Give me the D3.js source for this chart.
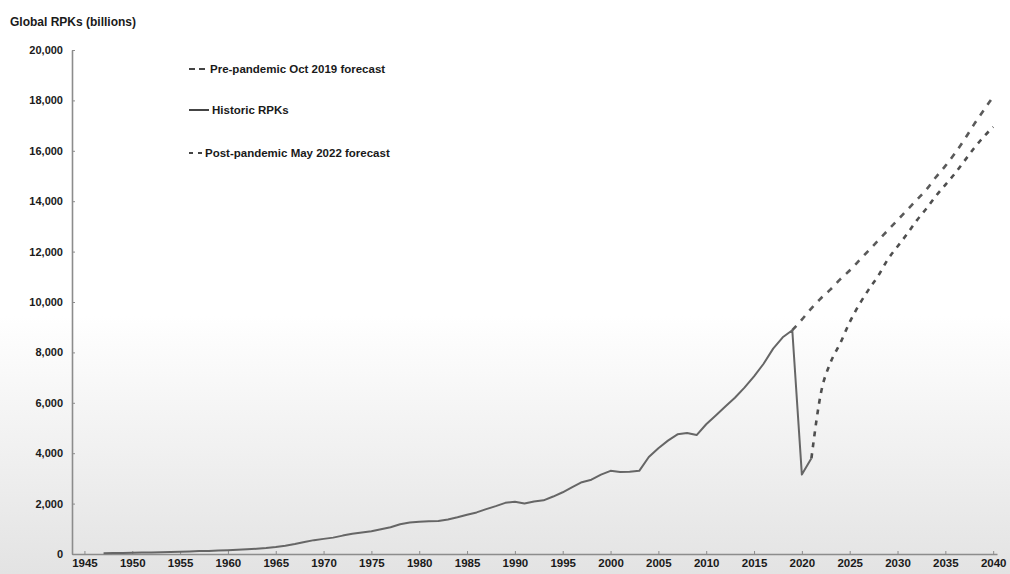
<!DOCTYPE html>
<html>
<head>
<meta charset="utf-8">
<script src="https://cdn.jsdelivr.net/npm/d3@7"></script>
<style>
  body { margin: 0; background: #fff; }
  svg text { font-family: "Liberation Sans", Arial, sans-serif; font-weight: bold; fill: #1a1a1a; }
  .axis path, .axis line { stroke: #8c8c8c; }
</style>
</head>
<body>
<svg class="chart"></svg>
<script>
// values (billions of RPKs)
var historicYears = d3.range(1947, 2022);
var historicRPKs = [
  30, 35, 40, 45, 55, 60, 70, 80, 90, 100,          // 1947-1956
  115, 120, 135, 150, 165, 185, 210, 240, 280, 330,  // 1957-1966
  400, 480, 550, 600, 650, 730, 800, 850, 900, 980,  // 1967-1976
  1060, 1180, 1250, 1280, 1300, 1310, 1370, 1460, 1560, 1650, // 1977-1986
  1780, 1900, 2030, 2070, 2000, 2080, 2130, 2280, 2450, 2650, // 1987-1996
  2850, 2950, 3150, 3300, 3250, 3260, 3300, 3850, 4200, 4500, // 1997-2006
  4750, 4800, 4720, 5150, 5500, 5850, 6200, 6600, 7050, 7550, // 2007-2016
  8150, 8600, 8880, 3150, 3800                        // 2017-2021
];

var preYears = d3.range(2019, 2041);
var preRPKs = [
  8880, 9300, 9750, 10150, 10500, 10900, 11250, 11650, 12050, 12450, 12850,
  13250, 13650, 14050, 14450, 14950, 15400, 15900, 16450, 17050, 17600, 18150
];

var postYears = d3.range(2021, 2041);
var postRPKs = [
  3800, 6400, 7600, 8350, 9200, 9900, 10500, 11050, 11700, 12200,
  12700, 13230, 13700, 14200, 14650, 15100, 15600, 16100, 16550, 16950
];

var yTicks = [0, 2000, 4000, 6000, 8000, 10000, 12000, 14000, 16000, 18000, 20000];
var xTicks = d3.range(1945, 2041, 5);

var legendItems = [
  {name: "Pre-pandemic Oct 2019 forecast", dash: "6,4", len: 18},
  {name: "Historic RPKs", dash: null, len: 20},
  {name: "Post-pandemic May 2022 forecast", dash: "4,5", len: 13}
];

var width = 1010, height = 574;
var margin = {top: 50, right: 10, bottom: 20, left: 72};

var chart = d3.select('.chart')
    .attr("width", width)
    .attr("height", height);

// scanned paper gets greyer towards the bottom
var grad = chart.append("defs").append("linearGradient")
    .attr("id", "paper")
    .attr("x1", 0).attr("y1", 0).attr("x2", 0).attr("y2", 1);
grad.append("stop").attr("offset", "0%").attr("stop-color", "#ffffff");
grad.append("stop").attr("offset", "55%").attr("stop-color", "#ffffff");
grad.append("stop").attr("offset", "100%").attr("stop-color", "#e3e3e3");
chart.append("rect")
    .attr("width", width).attr("height", height)
    .attr("fill", "url(#paper)");

var xScale = d3.scaleLinear()
    .domain([1943.7, 2040.4])
    .range([margin.left, width - 13]);

var yScale = d3.scaleLinear()
    .domain([0, 20000])
    .range([554, margin.top]);

chart.append("g")
    .attr("class", "axis y")
    .attr("transform", "translate(" + margin.left + ",0)")
    .call(d3.axisLeft(yScale).tickValues(yTicks).tickFormat(d3.format(","))
      .tickSizeInner(-3).tickSizeOuter(0).tickPadding(9))
    .call(function(g){
      g.select(".domain").attr("stroke-width", 1.6);
      g.selectAll("text").attr("font-size", 11);
    });

chart.append("g")
    .attr("class", "axis x")
    .attr("transform", "translate(0," + yScale(0) + ")")
    .call(d3.axisBottom(xScale).tickValues(xTicks).tickFormat(d3.format("d"))
      .tickSizeInner(-3).tickSizeOuter(0).tickPadding(5))
    .call(function(g){
      g.select(".domain").attr("stroke-width", 1.6);
      g.selectAll("text").attr("font-size", 11.5);
    });

chart.append("text")
    .attr("x", 10)
    .attr("y", 26)
    .attr("font-size", 12)
    .text("Global RPKs (billions)");

function series(years, vals){
  return years.map(function(yr, i){ return {year: yr, value: vals[i]}; });
}

var straight = d3.line()
    .x(function(d){ return xScale(d.year); })
    .y(function(d){ return yScale(d.value); });

var smooth = d3.line()
    .curve(d3.curveMonotoneX)
    .x(function(d){ return xScale(d.year); })
    .y(function(d){ return yScale(d.value); });

chart.append("path")
    .datum(series(preYears, preRPKs))
    .attr("d", smooth)
    .attr("fill", "none")
    .attr("stroke", "#5a5a5a")
    .attr("stroke-width", 2.6)
    .attr("stroke-dasharray", "6,7");

chart.append("path")
    .datum(series(postYears, postRPKs))
    .attr("d", smooth)
    .attr("fill", "none")
    .attr("stroke", "#4e4e4e")
    .attr("stroke-width", 2.6)
    .attr("stroke-dasharray", "5,6");

chart.append("path")
    .datum(series(historicYears, historicRPKs))
    .attr("d", straight)
    .attr("fill", "none")
    .attr("stroke", "#666")
    .attr("stroke-width", 2)
    .attr("stroke-linejoin", "round");

// legend
var legendY = [69, 110, 153];
var leg = chart.append("g").attr("class", "legend");
legendItems.forEach(function(item, i){
  leg.append("line")
      .attr("x1", 189).attr("x2", 189 + item.len)
      .attr("y1", legendY[i]).attr("y2", legendY[i])
      .attr("stroke", "#444")
      .attr("stroke-width", 2)
      .attr("stroke-dasharray", item.dash);
  leg.append("text")
      .attr("x", 192 + item.len)
      .attr("y", legendY[i])
      .attr("dy", "0.35em")
      .attr("font-size", 11.5)
      .text(item.name);
});
</script>
</body>
</html>
